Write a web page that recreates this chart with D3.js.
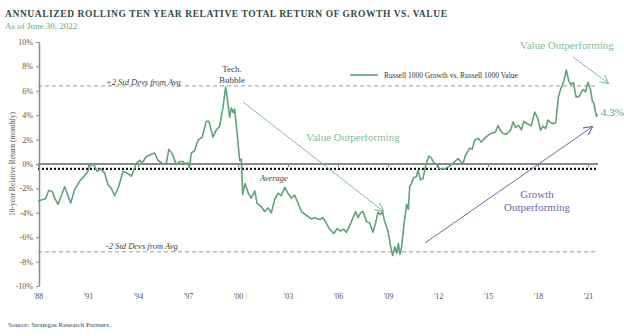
<!DOCTYPE html>
<html>
<head>
<meta charset="utf-8">
<script src="https://cdn.jsdelivr.net/npm/d3@7"></script>
<style>
  body { margin: 0; background: #fff; }
  svg { display: block; font-family: "Liberation Serif", "DejaVu Serif", serif; }
</style>
</head>
<body>
<div id="chart"></div>
<script>
// rolling 10y relative return, growth minus value (decimal year, %)
const years = [
  1988.00, 1988.20, 1988.45, 1988.64, 1988.85, 1989.00, 1989.20, 1989.40, 1989.60, 1989.75,
  1989.96, 1990.20, 1990.50, 1990.70, 1990.80, 1990.95, 1991.10, 1991.25, 1991.40, 1991.55,
  1991.75, 1992.00, 1992.20, 1992.40, 1992.60, 1992.85, 1993.10, 1993.35, 1993.60, 1993.90,
  1994.10, 1994.25, 1994.50, 1994.80, 1995.00, 1995.20, 1995.50, 1995.70, 1995.85, 1996.05,
  1996.30, 1996.50, 1996.70, 1996.85, 1997.00, 1997.08, 1997.20, 1997.40, 1997.60, 1997.85,
  1998.10, 1998.25, 1998.50, 1998.70, 1998.90, 1999.10, 1999.26, 1999.40, 1999.50, 1999.60,
  1999.72, 1999.80, 1999.95, 2000.10, 2000.20, 2000.28, 2000.42, 2000.62, 2000.80, 2001.00,
  2001.15, 2001.40, 2001.60, 2001.80, 2002.00, 2002.20, 2002.40, 2002.60, 2002.80, 2003.00,
  2003.20, 2003.40, 2003.60, 2003.80, 2004.10, 2004.40, 2004.60, 2004.90, 2005.10, 2005.30,
  2005.50, 2005.75, 2005.95, 2006.15, 2006.35, 2006.50, 2006.70, 2006.90, 2007.06, 2007.20,
  2007.35, 2007.50, 2007.70, 2007.90, 2008.10, 2008.28, 2008.40, 2008.55, 2008.67, 2008.80,
  2009.00, 2009.15, 2009.28, 2009.42, 2009.52, 2009.62, 2009.72, 2009.82, 2009.96, 2010.12,
  2010.22, 2010.30, 2010.40, 2010.55, 2010.70, 2010.80, 2010.95, 2011.10, 2011.25, 2011.45,
  2011.60, 2011.75, 2011.90, 2012.00, 2012.20, 2012.40, 2012.65, 2012.90, 2013.20, 2013.35,
  2013.50, 2013.65, 2013.90, 2014.05, 2014.20, 2014.40, 2014.60, 2014.80, 2015.00, 2015.25,
  2015.45, 2015.60, 2015.75, 2015.90, 2016.10, 2016.35, 2016.50, 2016.65, 2016.85, 2017.00,
  2017.15, 2017.35, 2017.60, 2017.80, 2018.00, 2018.15, 2018.30, 2018.45, 2018.60, 2018.75,
  2018.90, 2019.07, 2019.22, 2019.35, 2019.55, 2019.70, 2019.85, 2019.98, 2020.12, 2020.28,
  2020.45, 2020.60, 2020.72, 2020.85, 2021.00, 2021.15, 2021.27, 2021.35, 2021.50, 2021.56
];
const relReturn = [
  -3.05, -2.95, -2.85, -2.17, -2.25, -2.8, -3.3, -2.6, -1.85, -2.4,
  -3.2, -2.1, -1.4, -1.1, -0.95, -0.7, -0.2, 0.0, -0.2, -0.6,
  -0.4, -0.75, -1.7, -2.0, -2.6, -1.8, -0.6, -0.75, -1.0, 0.05,
  0.3, 0.1, 0.6, 0.8, 0.9, 0.3, 0.0, 0.05, 1.2, 0.85,
  -0.05, 0.2, 0.2, 0.0, 0.1, -0.3, 0.9, 1.1, 1.95, 2.2,
  3.5, 3.5, 2.2, 2.8, 3.1, 4.65, 6.3, 4.9, 3.85, 4.6,
  4.2, 4.5, 2.5, 0.3, 0.4, -2.5, -1.6, -2.4, -2.8, -2.2,
  -3.25, -3.5, -3.9, -3.6, -4.0, -2.9, -2.4, -2.6, -1.9, -2.4,
  -2.8, -2.55, -3.2, -3.9, -4.2, -4.5, -4.4, -4.55, -4.4, -4.85,
  -5.35, -5.7, -5.3, -5.5, -5.35, -5.6, -5.05, -4.4, -3.9, -4.4,
  -4.0, -3.9, -4.7, -4.85, -5.6, -4.7, -3.95, -4.15, -3.9, -4.7,
  -5.5, -6.7, -7.5, -6.8, -7.3, -6.5, -7.4, -6.8, -4.95, -3.3,
  -3.7, -1.85, -1.6, -1.1, -1.05, -0.5, -1.3, -1.2, -0.2, 0.65,
  0.5, 0.1, 0.0, -0.3, -0.4, -0.4, -0.2, 0.05, 0.45, 0.2,
  0.05, 0.7, 1.3, 1.2, 1.95, 2.1, 1.8, 2.1, 2.35, 2.55,
  2.6, 3.15, 2.75, 2.5, 2.45, 2.75, 3.45, 3.0, 3.15, 2.8,
  3.5, 3.3, 3.15, 4.25, 3.7, 2.75, 3.1, 2.9, 3.6, 3.4,
  3.3, 3.4, 5.5, 6.1, 6.8, 7.7, 6.8, 6.5, 6.7, 5.5,
  5.5, 5.9, 6.1, 5.9, 6.7, 6.1, 5.1, 5.0, 3.9, 4.1
];
const xTickYears = [1988, 1991, 1994, 1997, 2000, 2003, 2006, 2009, 2012, 2015, 2018, 2021];
const yTicks = [-10, -8, -6, -4, -2, 0, 2, 4, 6, 8, 10];
const refLevels = { plus2sd: 6.4, average: -0.4, minus2sd: -7.2 };
const lastLabel = '4.3%';

const W = 624;
const H = 336;
const green = '#62a27a';
const lightGreen = '#86bd9b';
const purple = '#6f6aa6';
const gray = '#555';

const svg = d3.select('#chart').append('svg')
  .attr('width', W)
  .attr('height', H);

const x = d3.scaleLinear().domain([1988, 2021]).range([38, 588]);
const y = d3.scaleLinear().domain([-10, 10]).range([286, 42]);
const xEnd = 598;

// title
svg.append('text')
  .attr('x', 5).attr('y', 17)
  .attr('textLength', 442).attr('lengthAdjust', 'spacing')
  .style('font-size', '9.5px').style('font-weight', 'bold')
  .style('fill', '#2f4b47')
  .text('ANNUALIZED ROLLING TEN YEAR RELATIVE TOTAL RETURN OF GROWTH VS. VALUE');

svg.append('text')
  .attr('x', 5).attr('y', 29)
  .style('font-size', '9px').style('fill', '#6aa882')
  .text('As of June 30, 2022');

// reference lines
const refLine = (val, dash, color, width) => svg.append('line')
  .attr('x1', x(1988)).attr('x2', xEnd)
  .attr('y1', y(val)).attr('y2', y(val))
  .attr('stroke', color).attr('stroke-width', width)
  .attr('stroke-dasharray', dash);

refLine(refLevels.plus2sd, '4,3', '#9a9a9a', 1);
refLine(refLevels.minus2sd, '4,3', '#9a9a9a', 1);
refLine(0, null, '#8a8a8a', 2);
refLine(refLevels.average, '2,2', '#111', 2.2);

// y axis
const yAxis = svg.append('g')
  .attr('transform', `translate(${x(1988) + 1},0)`)
  .call(d3.axisLeft(y).tickValues(yTicks).tickSize(3).tickSizeOuter(0)
    .tickFormat((d) => `${d}%`));
yAxis.select('.domain').attr('stroke', '#8a8a8a').attr('stroke-width', 1.5);
yAxis.selectAll('.tick line').attr('stroke', '#8a8a8a');
yAxis.selectAll('text')
  .style('font-family', '"Liberation Serif", serif')
  .style('font-size', '8px').style('fill', gray);

// small ticks on the zero line
const zeroTicks = svg.append('g')
  .attr('transform', `translate(0,${y(0)})`)
  .call(d3.axisBottom(x).tickValues(xTickYears).tickSize(3).tickFormat(''));
zeroTicks.select('.domain').remove();
zeroTicks.selectAll('.tick line').attr('stroke', '#8a8a8a');

// year labels at the bottom
const xAxis = svg.append('g')
  .attr('transform', 'translate(0,290)')
  .call(d3.axisBottom(x).tickValues(xTickYears).tickSize(0)
    .tickFormat((d) => `'${String(d).slice(2)}`));
xAxis.select('.domain').remove();
xAxis.selectAll('text')
  .style('font-family', '"Liberation Serif", serif')
  .style('font-size', '8px').style('fill', gray);

// y axis title
svg.append('text')
  .attr('transform', `translate(15,${y(0)}) rotate(-90)`)
  .attr('text-anchor', 'middle')
  .style('font-size', '7.5px').style('fill', gray)
  .text('10-year Relative Return (monthly)');

// series
const series = years.map((yr, i) => ({ yr, v: relReturn[i] }));
svg.append('path')
  .datum(series)
  .attr('fill', 'none')
  .attr('stroke', green)
  .attr('stroke-width', 1.6)
  .attr('stroke-linejoin', 'round')
  .attr('d', d3.line().x((d) => x(d.yr)).y((d) => y(d.v)));

// italic reference labels
const italicLabel = (tx, ty, txt) => svg.append('text')
  .attr('x', tx).attr('y', ty)
  .style('font-size', '8.5px').style('font-style', 'italic').style('fill', '#444')
  .text(txt);
italicLabel(106, 85, '+2 Std Devs from Avg');
italicLabel(106, 249, '-2 Std Devs from Avg');
italicLabel(260, 181, 'Average');

// tech bubble
svg.append('text')
  .attr('x', 232).attr('y', 72).attr('text-anchor', 'middle')
  .style('font-size', '9px').style('fill', '#444')
  .text('Tech.');
svg.append('text')
  .attr('x', 232).attr('y', 83).attr('text-anchor', 'middle')
  .style('font-size', '9px').style('fill', '#444')
  .text('Bubble');

// legend
svg.append('line')
  .attr('x1', 350).attr('x2', 378).attr('y1', 75).attr('y2', 75)
  .attr('stroke', green).attr('stroke-width', 1.6);
svg.append('text')
  .attr('x', 384).attr('y', 77.5)
  .style('font-size', '7.5px').style('fill', '#333')
  .text('Russell 1000 Growth vs. Russell 1000 Value');

// arrows
const defs = svg.append('defs');
const marker = (id, color) => defs.append('marker')
  .attr('id', id)
  .attr('viewBox', '0 0 10 10')
  .attr('refX', 9).attr('refY', 5)
  .attr('markerWidth', 9).attr('markerHeight', 9)
  .attr('markerUnits', 'userSpaceOnUse')
  .attr('orient', 'auto')
  .append('path')
  .attr('d', 'M0,0 L10,5 L0,10')
  .attr('fill', 'none')
  .attr('stroke', color)
  .attr('stroke-width', 1.2);
marker('headGreen', lightGreen);
marker('headPurple', purple);

const arrow = (x1, y1, x2, y2, color, head) => svg.append('line')
  .attr('x1', x1).attr('y1', y1).attr('x2', x2).attr('y2', y2)
  .attr('stroke', color).attr('stroke-width', 1)
  .attr('marker-end', `url(#${head})`);

arrow(243, 102, 383, 211, lightGreen, 'headGreen');
arrow(573, 57, 608, 83, lightGreen, 'headGreen');
arrow(425, 243, 592, 127, purple, 'headPurple');

// outperforming labels
const bigLabel = (tx, ty, txt, color, anchor) => svg.append('text')
  .attr('x', tx).attr('y', ty).attr('text-anchor', anchor || 'start')
  .style('font-size', '11px').style('fill', color)
  .text(txt);
bigLabel(306, 141, 'Value Outperforming', lightGreen);
bigLabel(520, 49, 'Value Outperforming', lightGreen);
bigLabel(537, 198, 'Growth', purple, 'middle');
bigLabel(537, 211, 'Outperforming', purple, 'middle');

// last value
bigLabel(601, 116, lastLabel, green);

// source
svg.append('text')
  .attr('x', 8).attr('y', 327)
  .style('font-size', '7px').style('fill', '#444')
  .text('Source:  Strategas Research Partners.');
</script>
</body>
</html>
